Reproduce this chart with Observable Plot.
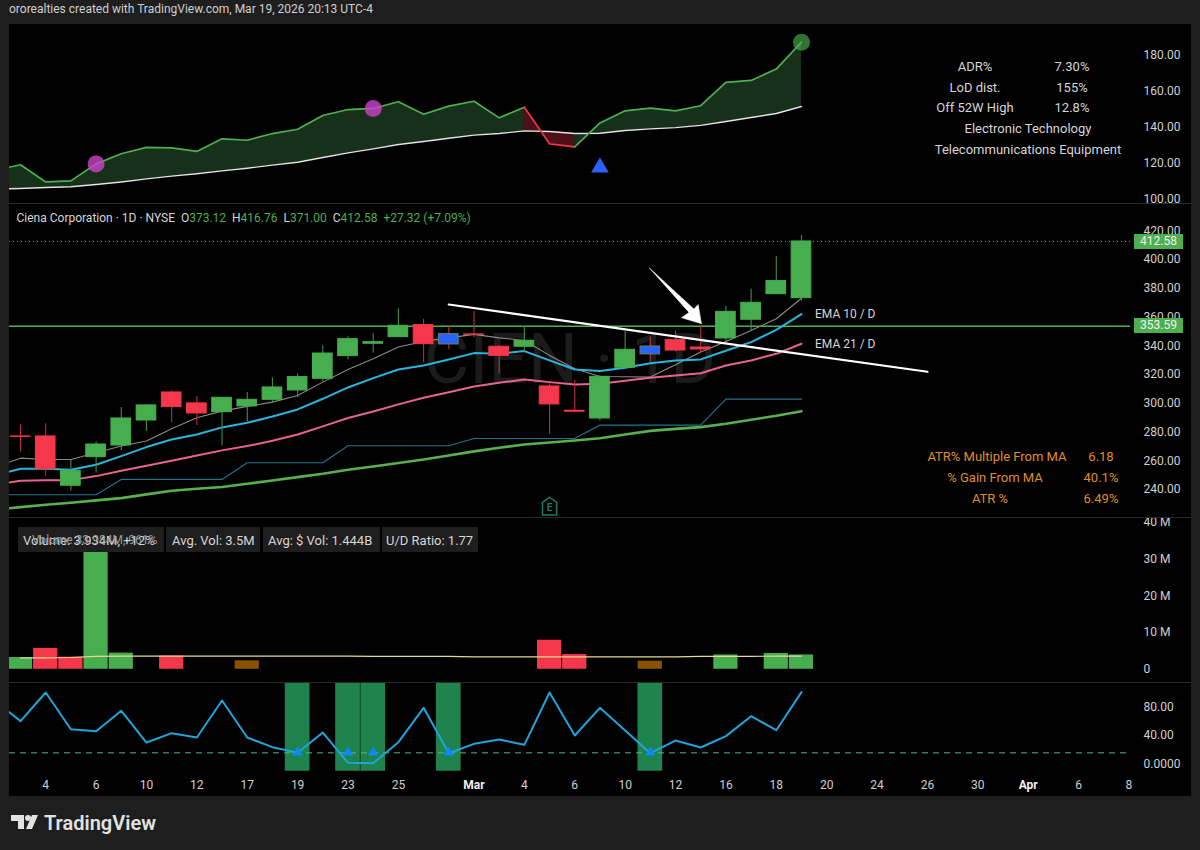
<!DOCTYPE html>
<html>
<head>
<meta charset="utf-8">
<script src="https://cdn.jsdelivr.net/npm/d3@7"></script>
<script src="https://cdn.jsdelivr.net/npm/@observablehq/plot@0.6"></script>
<style>
  html, body { margin: 0; padding: 0; background: #1e1e1e; }
  #page { position: relative; width: 1200px; height: 850px; overflow: hidden; background: #1e1e1e;
          font-family: Roboto, sans-serif; color: #d6d6d6; }
  #panels { position: absolute; left: 9px; top: 24px; width: 1182px; height: 772px; background: #000; }
  .panel { position: absolute; left: 0; }
  .lbl { position: absolute; white-space: nowrap; line-height: 1; font-size: 13px; }
  .sep { position: absolute; left: 9px; width: 1182px; height: 1px; background: #2b2b2b; }
  .chip { position: absolute; top: 527px; height: 25px; background: #1e1e1e; }
  .tag { position: absolute; left: 1134px; width: 49px; height: 15px; background: #4caf50; color: #f2f2f2;
         font-size: 12px; line-height: 15px; text-align: center; }
</style>
</head>
<body>
<div id="page">
  <div id="panels"></div>
</div>
<script>
const X_DOMAIN = [-0.437, 44.06];
const FONT = "Roboto, sans-serif";
const UP = "#47ae50", DOWN = "#f5374b", INSIDE = "#2962ff";

// bar index -1 is the bar cut off by the left edge, lines only
const lineIdx = d3.range(-1, 32);

// top panel: relative strength line and its average
const rsLine = [116.3, 119.3, 109.8, 110.4, 119.8, 125.4, 128.9, 128.7, 126.7, 133.7, 132.9, 136.6, 139.0, 146.6, 149.9, 150.5, 154.2, 147.3, 151.8, 154.5, 145.3, 151.2, 130.9, 129.2, 142.5, 149.2, 150.7, 149.2, 152.0, 164.9, 166.0, 172.3, 187.2];
const rsAvg = [105.8, 106.2, 106.7, 107.1, 108.4, 109.8, 111.5, 113.0, 114.3, 115.9, 117.4, 119.1, 120.7, 123.3, 125.9, 128.1, 130.5, 132.2, 134.0, 135.7, 136.6, 138.1, 137.7, 136.6, 136.8, 138.3, 139.2, 139.9, 141.1, 143.3, 145.5, 147.7, 151.6];
const rsTicks = [100, 120, 140, 160, 180];
const magentaBars = [3, 14];
const newHighBars = [31];
const blueTriangleBar = [23];
const blueTriangleValue = [117.8];

// price panel
const opens = [276.9, 276.9, 242.6, 262.5, 270.6, 288.0, 307.5, 299.9, 293.8, 297.8, 302.4, 308.9, 317.0, 332.8, 341.4, 346.0, 354.4, 348.1, 347.9, 339.3, 339.3, 311.7, 294.8, 289.4, 324.7, 339.5, 343.9, 338.8, 345.1, 358.1, 375.9, 373.12];
const highs = [285.0, 285.7, 260.2, 273.0, 297.1, 299.0, 308.7, 304.7, 303.8, 307.5, 317.5, 320.5, 340.0, 346.2, 348.3, 365.7, 358.3, 353.7, 363.9, 340.2, 353.4, 313.5, 315.9, 318.9, 349.7, 346.0, 350.2, 353.7, 367.3, 379.4, 402.1, 416.76];
const lows = [266.0, 249.3, 238.9, 251.4, 267.2, 280.4, 286.4, 284.6, 270.2, 286.9, 300.3, 303.8, 315.2, 330.2, 334.9, 346.0, 328.2, 337.2, 345.5, 320.5, 335.6, 278.5, 293.8, 287.6, 324.7, 328.6, 335.6, 334.4, 342.5, 350.6, 375.9, 371.0];
const closes = [276.6, 254.0, 253.0, 271.3, 289.4, 298.5, 297.3, 292.9, 303.8, 302.4, 311.0, 318.2, 334.6, 344.6, 342.5, 353.9, 341.1, 340.9, 347.6, 333.0, 343.5, 299.2, 294.1, 318.4, 337.2, 334.0, 336.7, 337.4, 363.6, 369.9, 385.0, 412.58];
const insideBars = [17, 25];

const ema5 = [255.6, 261.8, 260.9, 260.9, 265.5, 270.2, 273.7, 282.2, 289.9, 294.5, 297.8, 300.8, 305.4, 314.7, 323.5, 330.9, 339.1, 343.0, 345.5, 347.9, 345.5, 343.7, 333.3, 324.0, 318.6, 318.4, 318.2, 326.8, 335.6, 343.0, 350.6, 358.8, 373.1];
const ema10 = [249.8, 254.4, 254.4, 253.7, 257.2, 263.2, 269.5, 274.8, 278.3, 283.2, 286.4, 290.8, 295.7, 303.1, 311.0, 317.5, 323.5, 326.3, 330.5, 334.9, 334.4, 336.3, 329.8, 323.5, 322.4, 324.7, 327.9, 329.8, 330.5, 336.5, 342.5, 351.1, 362.0];
const ema21 = [243.3, 246.1, 246.5, 246.5, 249.3, 253.0, 256.5, 260.0, 263.7, 267.2, 270.2, 273.9, 278.3, 283.9, 289.7, 294.3, 299.2, 303.8, 307.7, 311.7, 314.2, 316.6, 314.7, 313.1, 313.5, 315.6, 317.7, 319.3, 320.9, 326.3, 329.8, 334.4, 341.4];
const lodStop = [236.3, 236.3, 236.3, 236.3, 236.3, 247.0, 247.0, 247.0, 247.0, 247.0, 258.6, 258.6, 258.6, 258.6, 270.4, 270.4, 270.4, 270.4, 270.4, 275.5, 275.5, 275.5, 275.5, 275.5, 284.8, 284.8, 284.8, 284.8, 284.8, 302.9, 302.9, 302.9, 302.9];
const sma50 = [226.1, 227.7, 229.4, 230.8, 232.4, 234.0, 236.6, 239.1, 240.5, 241.7, 244.0, 246.3, 248.6, 250.9, 253.7, 256.0, 258.4, 260.9, 263.7, 266.5, 269.0, 271.3, 272.7, 274.1, 275.7, 278.3, 280.8, 282.2, 283.4, 285.7, 288.5, 291.3, 294.5];
const priceTicks = [240, 260, 280, 300, 320, 340, 360, 380, 400, 420];
const lastPrice = 412.58;
const levelPrice = 353.59;
const trendBars = [17, 36];
const trendPrices = [368.7, 321.9];
const arrowBars = [24.97, 26.73, 26.9, 27.03, 26.24, 26.53];
const arrowPrices = [394.0, 365.6, 368.7, 355.3, 359.5, 363.2];
const earningsBar = [21];

// volume panel, millions; null = bar not drawn
const volumes = [3.2, 5.7, 3.3, 33.6, 4.4, null, 3.6, null, null, 2.3, null, null, null, null, null, null, null, null, null, null, null, 7.9, 4.0, null, null, 2.2, null, null, 3.9, null, 4.3, 3.9];
const volColors = [UP, DOWN, DOWN, UP, UP, null, DOWN, null, null, "#8a5200", null, null, null, null, null, null, null, null, null, null, null, DOWN, DOWN, null, null, "#8a5200", null, null, UP, null, UP, UP];
const avgVol = [3.1, 3.1, 3.2, 3.5, 3.6, 3.6, 3.6, 3.6, 3.6, 3.6, 3.6, 3.6, 3.6, 3.6, 3.5, 3.5, 3.5, 3.5, 3.4, 3.4, 3.4, 3.4, 3.4, 3.4, 3.4, 3.4, 3.4, 3.5, 3.5, 3.5, 3.6, 3.6];
const volTicks = [0, 10, 20, 30, 40];

// bottom panel
const oscLine = [88.5, 60.3, 100.8, 48.9, 46.1, 74.9, 30.1, 43.3, 37.2, 89.5, 37.2, 23.5, 15.5, 44.2, 1.4, 0.9, 30.6, 79.1, 15.0, 28.2, 34.3, 26.8, 100.8, 40.0, 79.1, 47.1, 15.0, 32.9, 23.0, 39.1, 67.3, 47.5, 101.3];
const oscThreshold = 15.5;
const oscTicks = [0, 40, 80];
const signalBars = [11, 13, 14, 17, 25];
const oscSignal = 16;

const dateTickBars = [1, 3, 5, 7, 9, 11, 13, 15, 20, 22, 24, 26, 28, 30, 32, 34, 36, 38, 42, 44];
const dateTickLabels = ["4", "6", "10", "12", "17", "19", "23", "25", "4", "6", "10", "12", "16", "18", "20", "24", "26", "30", "6", "8"];
const monthTickBars = [18, 40];
const monthTickLabels = ["Mar", "Apr"];

const candles = opens.map((o, i) => ({
  i, o, h: highs[i], l: lows[i], c: closes[i],
  color: insideBars.includes(i) ? INSIDE : closes[i] >= o ? UP : DOWN,
  wick: closes[i] >= o ? "#3f9146" : "#b8303f"
}));
const series = arr => lineIdx.map((i, k) => ({ i, v: arr[k] }));
const rsRows = lineIdx.map((i, k) => ({ i, v: rsLine[k], a: rsAvg[k] }));

const panels = document.getElementById("panels");
const page = document.getElementById("page");

function addPanel(top, height, yDomain, yTicks, tickFormat, marks) {
  const chart = Plot.plot({
    width: 1182, height,
    marginTop: 0, marginBottom: 0, marginLeft: 0, marginRight: 61,
    style: { background: "transparent", fontFamily: FONT, fontSize: "12px", color: "#d0d0d0" },
    x: { domain: X_DOMAIN, axis: null },
    y: { domain: yDomain, axis: null },
    color: { type: "identity" },
    marks: [
      ...marks,
      Plot.axisY({ anchor: "right", ticks: yTicks, tickFormat, tickSize: 0, tickPadding: 13, label: null, fill: "#d0d0d0", fontSize: 12 })
    ]
  });
  chart.classList.add("panel");
  chart.style.top = (top - 24) + "px";
  panels.append(chart);
}

function label(text, x, y, opts = {}) {
  const el = document.createElement("div");
  el.className = "lbl";
  el.textContent = text;
  el.style.left = x + "px";
  el.style.top = y + "px";
  const shift = opts.align === "center" ? "-50%" : "0";
  el.style.transform = `translate(${shift}, -50%)`;
  if (opts.color) el.style.color = opts.color;
  if (opts.size) el.style.fontSize = opts.size + "px";
  if (opts.weight) el.style.fontWeight = opts.weight;
  page.append(el);
  return el;
}

// top panel
const rsGreenA = rsRows.filter(d => d.i <= 20);
const rsRed = rsRows.filter(d => d.i >= 20 && d.i <= 22);
const rsGreenB = rsRows.filter(d => d.i >= 22);
addPanel(24, 180, [97.3, 197], rsTicks, d3.format(".2f"), [
  Plot.areaY(rsGreenA, { x: "i", y1: "v", y2: "a", fill: "#17301a", clip: true }),
  Plot.areaY(rsRed, { x: "i", y1: "v", y2: "a", fill: "#4d1016", clip: true }),
  Plot.areaY(rsGreenB, { x: "i", y1: "v", y2: "a", fill: "#17301a", clip: true }),
  Plot.line(rsRows, { x: "i", y: "a", stroke: "#e4e4e4", strokeWidth: 1.4, clip: true }),
  Plot.line(rsGreenA, { x: "i", y: "v", stroke: "#4caf50", strokeWidth: 1.7, clip: true }),
  Plot.line(rsRed, { x: "i", y: "v", stroke: "#f23645", strokeWidth: 1.7 }),
  Plot.line(rsGreenB, { x: "i", y: "v", stroke: "#4caf50", strokeWidth: 1.7 }),
  Plot.dot(magentaBars, { x: d => d, y: d => rsRows[d + 1].v, r: 8.5, fill: "#cc44cc", fillOpacity: 0.8 }),
  Plot.dot(newHighBars, { x: d => d, y: d => rsRows[d + 1].v, r: 8.5, fill: "#4caf50", fillOpacity: 0.65 }),
  Plot.dot(blueTriangleBar, { x: d => d, y: (d, k) => blueTriangleValue[k], symbol: "triangle", r: 6.5, fill: "#2962ff" })
]);

// price panel
const earningsIcon = {
  draw(ctx, size) {
    const s = Math.sqrt(size);
    ctx.moveTo(0, -s * 0.55);
    ctx.lineTo(s * 0.42, -s * 0.25);
    ctx.lineTo(s * 0.42, s * 0.5);
    ctx.lineTo(-s * 0.42, s * 0.5);
    ctx.lineTo(-s * 0.42, -s * 0.25);
    ctx.closePath();
  }
};
addPanel(204, 313, [220.5, 438.3], priceTicks, d3.format(".2f"), [
  Plot.text(["CIEN · 1D"], { frameAnchor: "middle", fontSize: 70, fill: "#1b1b1b", fontFamily: FONT }),
  Plot.ruleY([levelPrice], { stroke: "#4caf50", strokeWidth: 1.4 }),
  Plot.ruleY([lastPrice], { stroke: "#4caf50", strokeWidth: 1, strokeDasharray: "1 3" }),
  Plot.line(series(sma50), { x: "i", y: "v", stroke: "#58b04f", strokeWidth: 2.6, clip: true }),
  Plot.line(series(lodStop), { x: "i", y: "v", stroke: "#1f7590", strokeWidth: 1.1, clip: true }),
  Plot.line(series(ema5), { x: "i", y: "v", stroke: "#8f8a85", strokeWidth: 1.1, clip: true }),
  Plot.line(series(ema21), { x: "i", y: "v", stroke: "#e7648f", strokeWidth: 2, clip: true }),
  Plot.line(series(ema10), { x: "i", y: "v", stroke: "#29b6dc", strokeWidth: 2, clip: true }),
  Plot.ruleX(candles, { x: "i", y1: "l", y2: "h", stroke: "wick", strokeWidth: 1.1 }),
  Plot.rect(candles, {
    x1: d => d.i - 0.39, x2: d => d.i + 0.39, y1: "o", y2: "c",
    fill: "color", stroke: d => d.color === INSIDE ? "#5f7f6a" : d.color, strokeWidth: 1
  }),
  Plot.line(trendBars.map((i, k) => ({ i, v: trendPrices[k] })), { x: "i", y: "v", stroke: "#fff", strokeWidth: 2.2 }),
  Plot.line(arrowBars.map((i, k) => ({ i, v: arrowPrices[k] })), { x: "i", y: "v", fill: "#fff", stroke: "#fff", strokeWidth: 0.5, curve: "linear-closed" }),
  Plot.dot(earningsBar, { x: d => d, frameAnchor: "bottom", dy: -11, symbol: earningsIcon, r: 9.5, stroke: "#1b7a6c", strokeWidth: 1.5, fill: "#000" }),
  Plot.text(earningsBar.map(() => "E"), { x: earningsBar, frameAnchor: "bottom", lineAnchor: "middle", dy: -10, fontSize: 10, fontWeight: "bold", fill: "#1b7a6c" })
]);

// volume panel
const volRows = volumes.map((v, i) => ({ i, v, color: volColors[i] })).filter(d => d.v != null);
addPanel(517, 166, [-3.87, 41.3], volTicks, d => d === 0 ? "0" : `${d} M`, [
  Plot.rect(volRows, { x1: d => d.i - 0.48, x2: d => d.i + 0.48, y1: 0, y2: "v", fill: "color", clip: true }),
  Plot.line(avgVol.map((v, i) => ({ i, v })), { x: "i", y: "v", stroke: "#e4dc8c", strokeWidth: 1.2 })
]);

// bottom panel
const dateRows = dateTickBars.map((i, k) => ({ i, t: dateTickLabels[k] }));
const monthRows = monthTickBars.map((i, k) => ({ i, t: monthTickLabels[k] }));
addPanel(683, 113, [-46.2, 113.5], oscTicks, d => d === 0 ? "0.0000" : d3.format(".2f")(d), [
  Plot.rect(signalBars, { x1: d => d - 0.49, x2: d => d + 0.49, y1: -10.5, y2: 113.5, fill: "#1e834c" }),
  Plot.ruleY([oscThreshold], { stroke: "#52b788", strokeWidth: 1, strokeDasharray: "6 5" }),
  Plot.line(series(oscLine), { x: "i", y: "v", stroke: "#1ea5dc", strokeWidth: 2, clip: true }),
  Plot.dot(signalBars, { x: d => d, y: () => oscSignal, symbol: "triangle", r: 3.8, fill: "#1187ff" }),
  Plot.text(dateRows, { x: "i", text: "t", frameAnchor: "bottom", lineAnchor: "middle", dy: -11.5, fill: "#d0d0d0", fontSize: 12 }),
  Plot.text(monthRows, { x: "i", text: "t", frameAnchor: "bottom", lineAnchor: "middle", dy: -11.5, fill: "#f0f0f0", fontSize: 12, fontWeight: "bold" })
]);

// panel separators
for (const y of [203, 517, 682]) {
  const sep = document.createElement("div");
  sep.className = "sep";
  sep.style.top = y + "px";
  page.append(sep);
}

// header and legend
label("ororealties created with TradingView.com, Mar 19, 2026 20:13 UTC-4", 9, 9, { size: 12, color: "#cfcfcf" });

const legend = label("", 16.5, 218, { size: 12 });
legend.innerHTML = `<span style="color:#d6d6d6">Ciena Corporation · 1D · NYSE&nbsp;&nbsp;O</span><span style="color:#4caf50">373.12</span>&nbsp;&nbsp;<span>H</span><span style="color:#4caf50">416.76</span>&nbsp;&nbsp;<span>L</span><span style="color:#4caf50">371.00</span>&nbsp;&nbsp;<span>C</span><span style="color:#4caf50">412.58</span>&nbsp;&nbsp;<span style="color:#4caf50">+27.32 (+7.09%)</span>`;

// stats table, top right
const statNames = ["ADR%", "LoD dist.", "Off 52W High"];
const statValues = ["7.30%", "155%", "12.8%"];
statNames.forEach((s, k) => {
  label(s, 975, 65.7 + k * 20.8, { align: "center" });
  label(statValues[k], 1072, 65.7 + k * 20.8, { align: "center" });
});
label("Electronic Technology", 1028, 128, { align: "center" });
label("Telecommunications Equipment", 1028, 149, { align: "center" });

// stats table, orange
const atrNames = ["ATR% Multiple From MA", "% Gain From MA", "ATR %"];
const atrNameX = [997, 995, 990];
const atrValues = ["6.18", "40.1%", "6.49%"];
atrNames.forEach((s, k) => {
  label(s, atrNameX[k], 455.7 + k * 21.1, { align: "center", color: "#e08e22" });
  label(atrValues[k], 1101, 455.7 + k * 21.1, { align: "center", color: "#e08e22" });
});

label("EMA 10 / D", 815, 314, { size: 12 });
label("EMA 21 / D", 815, 343.5, { size: 12 });

// price tags on the axis
for (const [text, top] of [["412.58", 233.5], ["353.59", 318]]) {
  const tag = document.createElement("div");
  tag.className = "tag";
  tag.textContent = text;
  tag.style.top = top + "px";
  page.append(tag);
}

// volume chips
const chipX = [[18, 146], [166, 94], [262.5, 117.5], [382, 96]];
for (const [left, width] of chipX) {
  const chip = document.createElement("div");
  chip.className = "chip";
  chip.style.left = left + "px";
  chip.style.width = width + "px";
  page.append(chip);
}
label("Volume: 3.934M, +12%", 23, 539.5, { color: "#d6d6d6" });
label("Volume  33.984M, 961%", 32, 539.5, { color: "#9a9a9a", size: 12 });
label("Avg. Vol: 3.5M", 172, 539.5);
label("Avg: $ Vol: 1.444B", 268, 539.5);
label("U/D Ratio: 1.77", 386, 539.5);

// TradingView mark
const logo = document.createElementNS("http://www.w3.org/2000/svg", "svg");
logo.setAttribute("width", 28);
logo.setAttribute("height", 16);
logo.style.cssText = "position:absolute;left:10.5px;top:815px";
logo.innerHTML = `<path fill="#e2e2e2" d="M0 0H13V14H7V6H0Z"/><circle cx="17" cy="3" r="3" fill="#e2e2e2"/><path fill="#e2e2e2" d="M21 0H27L21 14H15Z"/>`;
page.append(logo);
label("TradingView", 44, 823, { size: 20, weight: 600, color: "#e2e2e2" });
</script>
</body>
</html>
